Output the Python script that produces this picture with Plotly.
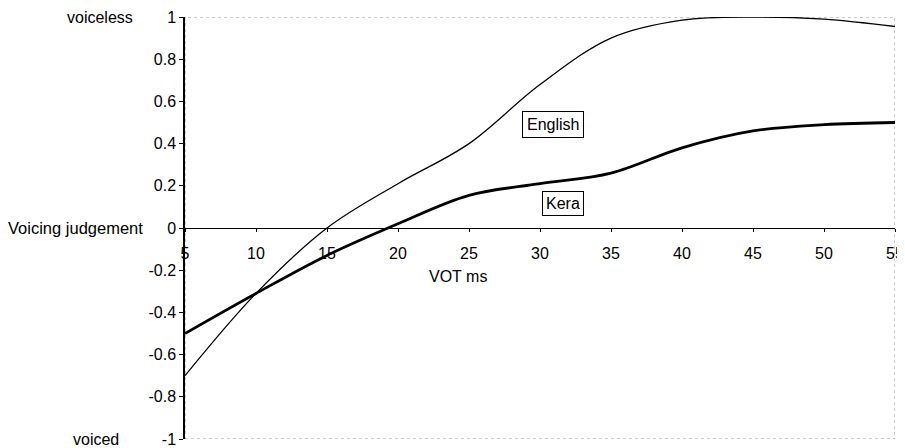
import plotly.graph_objects as go

vot_ms = [5, 10, 15, 20, 25, 30, 35, 40, 45, 50, 55]
english = [-0.70, -0.31, 0.00, 0.21, 0.40, 0.68, 0.90, 0.985, 1.00, 0.99, 0.955]
kera = [-0.50, -0.31, -0.13, 0.02, 0.155, 0.21, 0.26, 0.38, 0.46, 0.49, 0.50]

y_tick_vals = [1, 0.8, 0.6, 0.4, 0.2, 0, -0.2, -0.4, -0.6, -0.8, -1]
y_tick_text = ["1", "0.8", "0.6", "0.4", "0.2", "0", "-0.2", "-0.4", "-0.6", "-0.8", "-1"]
x_tick_vals = [5, 10, 15, 20, 25, 30, 35, 40, 45, 50, 55]

FONT = "Liberation Sans, Arial, sans-serif"
FS = 16

fig = go.Figure()
fig.add_trace(go.Scatter(x=vot_ms, y=english, mode="lines", name="English",
                         line=dict(color="black", width=1.3, shape="spline", smoothing=1.0)))
fig.add_trace(go.Scatter(x=vot_ms, y=kera, mode="lines", name="Kera",
                         line=dict(color="black", width=2.8, shape="spline", smoothing=1.0)))

# faint dotted frame (top, bottom, right)
fig.add_shape(type="rect", xref="x", yref="y", x0=5, x1=55, y0=-1, y1=1,
              line=dict(color="#9a9a9a", width=1, dash="dot"), layer="below")

fig.update_layout(
    width=905, height=448,
    margin=dict(l=177, r=18, t=9, b=17),
    paper_bgcolor="white", plot_bgcolor="white",
    showlegend=False,
    font=dict(family=FONT, size=FS, color="black"),
    xaxis=dict(range=[5, 55], tickvals=x_tick_vals, ticktext=[str(v) for v in x_tick_vals],
               showgrid=False, zeroline=False, showline=True, linecolor="black", linewidth=1,
               ticks="outside", ticklen=3, tickcolor="black",
               anchor="free", position=0.5, automargin=False, ticklabelstandoff=8,
               ticklabeloverflow="allow",
               tickfont=dict(family=FONT, size=FS)),
    yaxis=dict(range=[-1, 1], tickvals=y_tick_vals, ticktext=y_tick_text,
               showgrid=False, zeroline=False, showline=True, linecolor="black", linewidth=1.5,
               ticks="outside", ticklen=4, tickcolor="black", automargin=False,
               tickfont=dict(family=FONT, size=FS)),
)

ann = [
    dict(text="voiceless", xref="paper", x=0, xanchor="right", xshift=-50, yref="y", y=1, yanchor="middle", size=FS),
    dict(text="Voicing judgement", xref="paper", x=0, xanchor="right", xshift=-40, yref="y", y=0, yanchor="middle", size=16.5),
    dict(text="voiced", xref="paper", x=0, xanchor="right", xshift=-64, yref="y", y=-1, yanchor="middle", size=FS),
    dict(text="VOT ms", xref="x", x=24.2, yref="y", y=-0.23, yanchor="middle", size=FS),
    dict(text="English", xref="x", x=30.9, yref="y", y=0.49, bordercolor="black", borderwidth=1,
         bgcolor="white", borderpad=4, size=FS),
    dict(text="Kera", xref="x", x=31.6, yref="y", y=0.118, bordercolor="black", borderwidth=1,
         bgcolor="white", borderpad=3, size=FS),
]
for a in ann:
    s = a.pop("size")
    a.setdefault("showarrow", False)
    a["font"] = dict(family=FONT, size=s, color="black")
    fig.add_annotation(**a)

fig.write_html("out.html")
